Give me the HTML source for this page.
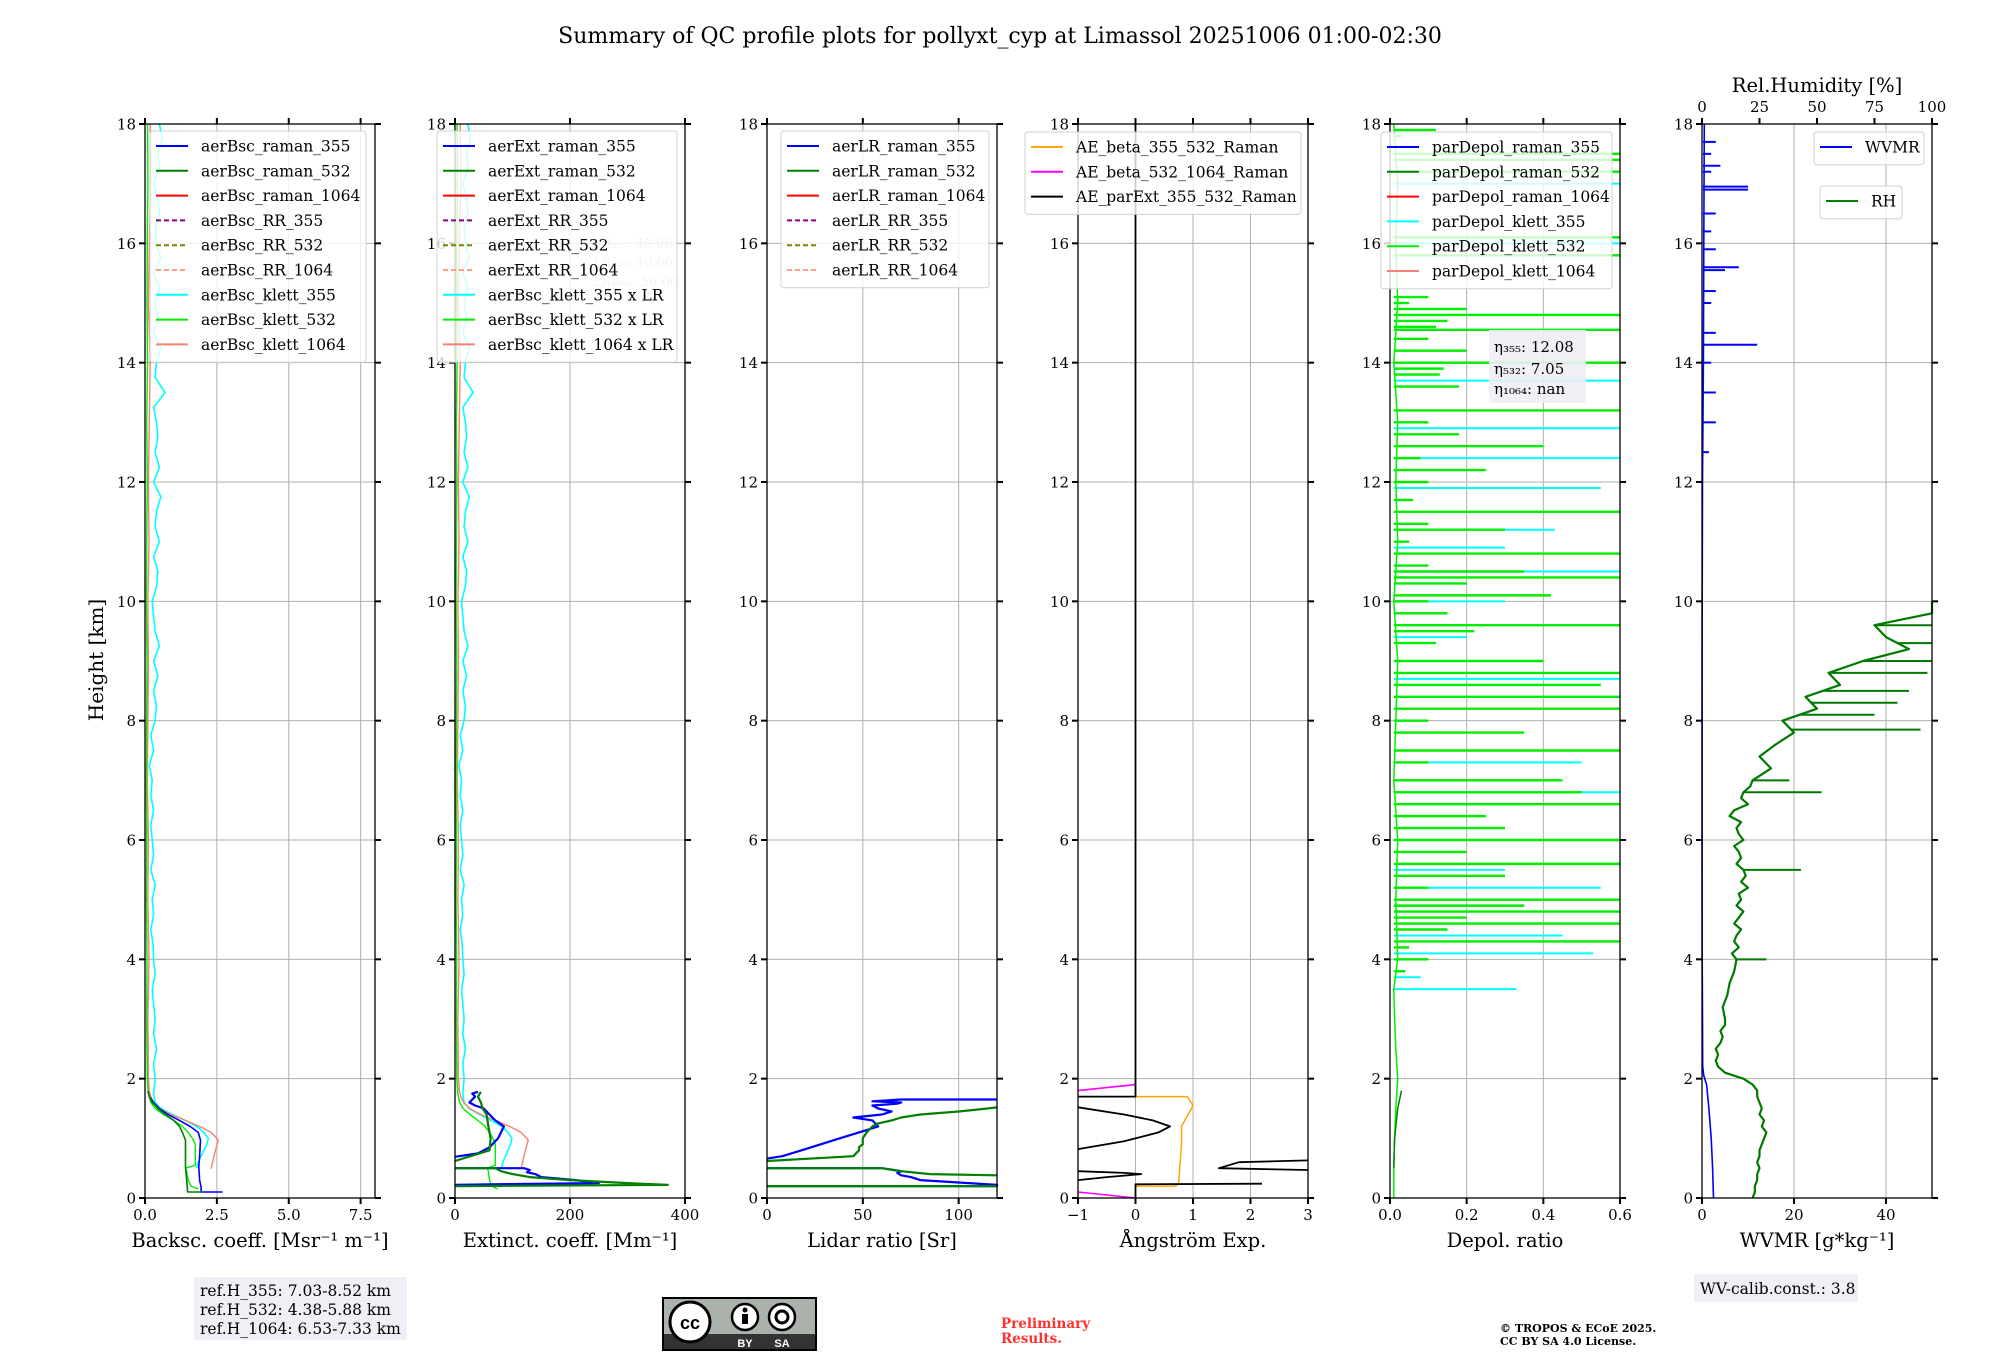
<!DOCTYPE html>
<html><head><meta charset="utf-8">
<style>
html,body{margin:0;padding:0;background:#fff;}
svg{display:block;font-family:"DejaVu Serif","Liberation Serif",serif;}
</style></head>
<body>
<svg id="chart" width="2000" height="1360" viewBox="0 0 2000 1360" xmlns="http://www.w3.org/2000/svg">
<rect width="2000" height="1360" fill="#fff"/>
<text x="1000" y="43" text-anchor="middle" font-size="22">Summary of QC profile plots for pollyxt_cyp at Limassol 20251006 01:00-02:30</text>
<text transform="translate(103,660) rotate(-90)" text-anchor="middle" font-size="20">Height [km]</text>
<g id="plots"></g>
<rect x="194" y="1277" width="213" height="63" fill="#eef0f5"/>
<text x="200" y="1296" font-size="15.5">ref.H_355: 7.03-8.52 km</text>
<text x="200" y="1315" font-size="15.5">ref.H_532: 4.38-5.88 km</text>
<text x="200" y="1334" font-size="15.5">ref.H_1064: 6.53-7.33 km</text>
<g>
<rect x="662" y="1297" width="155" height="54" fill="#000"/>
<rect x="664" y="1299" width="151" height="35" fill="#abb1ab"/>
<rect x="664" y="1334" width="151" height="15" fill="#333"/>
<circle cx="690" cy="1322" r="20" fill="#fff" stroke="#000" stroke-width="3"/>
<text x="690" y="1329" text-anchor="middle" font-size="18" font-weight="bold" font-family="Liberation Sans,sans-serif">cc</text>
<circle cx="745" cy="1317" r="13" fill="#fff" stroke="#000" stroke-width="2.5"/>
<circle cx="745" cy="1310" r="2.5" fill="#000"/><rect x="742" y="1314" width="6" height="10" fill="#000"/>
<circle cx="782" cy="1317" r="13" fill="#fff" stroke="#000" stroke-width="2.5"/>
<circle cx="782" cy="1317" r="6" fill="none" stroke="#000" stroke-width="3"/>
<text x="745" y="1347" text-anchor="middle" font-size="11" fill="#fff" font-family="Liberation Sans,sans-serif" font-weight="bold">BY</text>
<text x="782" y="1347" text-anchor="middle" font-size="11" fill="#fff" font-family="Liberation Sans,sans-serif" font-weight="bold">SA</text>
</g>
<text x="1001" y="1328" font-size="13.5" font-weight="bold" fill="#ff3030">Preliminary</text>
<text x="1001" y="1343" font-size="13.5" font-weight="bold" fill="#ff3030">Results.</text>
<text x="1500" y="1332" font-size="11" font-weight="bold">© TROPOS &amp; ECoE 2025.</text>
<text x="1500" y="1345" font-size="11" font-weight="bold">CC BY SA 4.0 License.</text>
<rect x="1694" y="1274" width="164" height="28" fill="#eef0f5"/>
<text x="1700" y="1294" font-size="15.5">WV-calib.const.: 3.8</text>
</svg>
<script>
// ---------- data ----------
const upperBsc355 = [0.35,0.3,0.4,0.3,0.35,0.3,0.25,0.35,0.3,0.28,0.2,0.3,0.25,0.35,0.2,0.3,0.25,0.2,0.3,0.2,0.25,0.15,0.3,0.2,0.35,0.4,0.3,0.45,0.3,0.5,0.35,0.3,0.25,0.4,0.45,0.3,0.5,0.35,0.4,0.55,0.3,0.5,0.35,0.45,0.4,0.3,0.7,0.35,0.4,0.55,0.3,0.45,0.35,0.5,0.3,0.55,0.4,0.35,0.5,0.45,0.3,0.5,0.45,0.6,0.5];
const upperBsc1064 = [0.12,0.1,0.14,0.1,0.12,0.08,0.1,0.12,0.1,0.14,0.12,0.15,0.18,0.12,0.15,0.2,0.18];
const upperBsc532 = [0.08,0.06,0.07,0.05,0.06,0.05,0.06,0.07,0.05,0.06,0.08,0.06,0.09,0.07,0.08,0.1,0.09];
const lowK355H = [0.5,0.6,0.7,0.8,0.9,1.0,1.1,1.2,1.3,1.4,1.5,1.6,1.75];
const lowK355V = [1.8,1.85,1.95,2.05,2.15,2.2,2.05,1.8,1.4,0.95,0.55,0.35,0.3];
const lowK1064H = [0.49,0.6,0.8,0.97,1.1,1.2,1.3,1.4,1.5,1.6,1.7,1.8];
const lowK1064V = [2.3,2.35,2.45,2.55,2.3,1.9,1.4,0.9,0.5,0.3,0.2,0.15];
const lowK532H = [0.15,0.2,0.3,0.45,0.5,0.55,0.7,0.9,1.0,1.1,1.2,1.3,1.4,1.5,1.6,1.75];
const lowK532V = [1.85,1.6,1.5,1.45,1.4,1.75,1.75,1.75,1.65,1.5,1.3,1.0,0.65,0.35,0.2,0.12];
const lrKlett = [45,40,50];
const bscR355H = [0.1,0.1,0.18,0.3,0.52,0.7,0.97,1.1,1.19,1.3,1.4,1.5,1.6,1.7,1.79];
const bscR355V = [2.7,1.95,1.95,1.9,1.87,1.9,1.93,1.85,1.6,1.2,0.8,0.5,0.3,0.15,0.1];
const bscR532H = [0.1,0.1,0.3,0.52,0.7,0.97,1.1,1.2,1.3,1.4,1.5,1.6,1.7,1.79];
const bscR532V = [2.0,1.48,1.45,1.41,1.41,1.41,1.3,1.2,1.0,0.7,0.45,0.25,0.15,0.1];
const extR355H = [0.22,0.23,0.25,0.3,0.35,0.4,0.43,0.47,0.5,0.5,null,0.69,0.75,0.85,1.0,1.1,1.2,1.3,1.4,1.5,1.55,1.6,1.65,1.7,1.75,1.78];
const extR355V = [0,60,250,210,150,140,125,130,120,0,null,0,40,60,75,80,85,70,60,50,35,25,30,35,30,40];
const extR532H = [0.2,0.22,0.25,0.3,0.35,0.4,0.45,0.5,0.5,null,0.62,0.8,1.0,1.2,1.4,1.5,1.6,1.7,1.78];
const extR532V = [0,370,300,200,130,100,80,70,0,null,0,60,62,58,55,48,45,40,45];
const lrR355H = [0.2,0.2,0.22,0.3,0.35,0.38,0.42,0.45,0.5,0.5,null,0.66,0.7,0.8,0.9,1.0,1.1,1.2,1.3,1.35,1.4,1.45,1.5,1.55,1.58,1.6,1.62,1.65,1.65];
const lrR355V = [0,120,120,80,75,70,68,70,60,0,null,0,8,18,28,38,48,58,55,45,60,65,58,55,68,70,55,70,120];
const lrR532H = [0.2,0.2,null,0.38,0.4,0.45,0.5,0.5,null,0.62,0.7,0.8,0.85,0.9,1.0,1.1,1.2,1.25,1.3,1.35,1.4,1.45,1.5,1.52];
const lrR532V = [0,120,null,120,85,70,60,0,null,0,45,48,48,50,50,52,55,58,65,70,80,100,115,120];
const aeExtH = [18,1.7,1.7,null,1.52,1.4,1.3,1.2,1.1,0.95,0.82,null,0.45,0.42,0.4,0.35,0.3,null,0.63,0.6,0.5,0.47,null,0.24,0.23,0];
const aeExtV = [0,0,-1,null,-1,-0.2,0.3,0.6,0.4,-0.2,-1,null,-1,-0.2,0.1,-0.5,-1,null,3,1.8,1.45,3,null,2.2,0,0];
const aeBscH = [1.7,1.7,1.55,1.2,0.9,0.25,0.2,0.2];
const aeBscV = [0,0.9,1.0,0.8,0.8,0.75,0.7,0];
const ae1064H = [1.9,1.8,null,0.1,0.0];
const ae1064V = [0,-1,null,-1,0];
const depolBaseH = [0,0.5,1,1.5,2,2.5,3,3.5,4,5,6,7,8,9,10,11,12,13,14,15,16,17,18];
const depolBaseV = [0.01,0.01,0.012,0.015,0.02,0.015,0.012,0.01,0.02,0.015,0.02,0.01,0.015,0.02,0.01,0.02,0.015,0.02,0.01,0.02,0.015,0.02,0.01];
const depolR532H = [0.5,1.0,1.5,1.8];
const depolR532V = [0.01,0.012,0.02,0.03];
const spikeK532H = [17.9,17.8,17.5,17.4,17.2,16.1,15.8,15.1,15.0,14.9,14.8,14.7,14.6,14.55,14.4,14.2,14.0,13.9,13.8,13.6,13.2,13.0,12.8,12.6,12.4,12.2,12.0,11.7,11.5,11.3,11.2,11.0,10.8,10.6,10.5,10.4,10.3,10.1,10.0,9.8,9.6,9.5,9.3,9.0,8.8,8.6,8.4,8.2,8.0,7.8,7.5,7.3,7.0,6.8,6.6,6.4,6.2,6.0,5.8,5.6,5.4,5.2,5.0,4.9,4.8,4.7,4.6,4.5,4.3,4.2,4.0,3.8];
const spikeK532V = [0.12,0.03,0.6,0.6,0.6,0.6,0.6,0.1,0.05,0.2,0.6,0.15,0.12,0.6,0.1,0.2,0.6,0.14,0.13,0.18,0.6,0.1,0.18,0.4,0.08,0.25,0.1,0.06,0.6,0.1,0.3,0.05,0.6,0.1,0.35,0.6,0.2,0.42,0.1,0.15,0.6,0.22,0.12,0.4,0.6,0.55,0.6,0.6,0.1,0.35,0.6,0.1,0.45,0.5,0.6,0.25,0.3,0.6,0.2,0.6,0.3,0.1,0.6,0.35,0.6,0.2,0.6,0.15,0.6,0.05,0.1,0.04];
const spikeK355H = [17.0,16.1,16.0,13.7,12.9,12.4,11.9,11.2,10.9,10.5,10.0,9.4,8.7,7.3,6.8,6.6,5.5,5.2,4.9,4.4,4.1,3.7,3.5];
const spikeK355V = [0.6,0.6,0.6,0.6,0.6,0.6,0.55,0.43,0.3,0.6,0.3,0.2,0.6,0.5,0.6,0.35,0.3,0.55,0.3,0.45,0.53,0.08,0.33];
const rhH = [0,0.1,0.2,0.3,0.4,0.5,0.6,0.7,0.8,0.9,1.0,1.1,1.2,1.3,1.4,1.5,1.6,1.7,1.8,1.9,2.0,2.1,2.2,2.3,2.4,2.5,2.6,2.7,2.8,2.9,3.0,3.2,3.4,3.6,3.8,4.0,4.1,4.2,4.3,4.4,4.5,4.6,4.7,4.8,4.9,5.0,5.1,5.2,5.3,5.4,5.5,5.6,5.7,5.8,5.9,6.0,6.1,6.2,6.3,6.4,6.5,6.6,6.7,6.8,6.9,7.0,7.2,7.4,7.6,7.8,8.0,8.2,8.4,8.6,8.8,9.0,9.2,9.4,9.6,9.8,10.0];
const rhV = [22,23,23,24,24,25,24,25,25,26,27,28,26,27,25,26,25,24,24,22,18,10,7,6,7,6,8,9,8,10,10,9,11,12,14,15,13,16,14,15,17,14,16,18,15,17,16,20,17,19,18,15,17,16,14,18,16,15,17,12,14,20,17,18,21,22,30,25,32,40,35,50,45,60,55,70,90,80,75,100,100];
const rhSpikeH = [4.0,5.5,6.8,7.0,7.85,8.1,8.3,8.5,8.8,9.0,9.3,9.6,9.9];
const rhSpikeV = [28,43,52,38,95,75,85,90,98,100,100,100,100];
const wvH = [0,0.5,1,1.5,1.9,2.05,2.2,3,4,6,8,10,12,14,16,18];
const wvV = [2.5,2.3,2.0,1.5,1.0,0.4,0.15,0.1,0.05,0.03,0.02,0.05,0.1,0.3,0.4,0.5];
const wvSpikeH = [17.7,17.5,17.3,17.2,16.95,16.9,16.5,16.2,15.9,15.6,15.55,15.2,15.0,14.5,14.3,14.0,13.5,13.0,12.5];
const wvSpikeV = [3,2,4,2,10,10,3,2,3,8,5,3,2,3,12,2,3,3,1.5];

// ---------- layout ----------
const NS = 'http://www.w3.org/2000/svg';
const root = document.getElementById('plots');
const Y0 = 1198, Y1 = 124, HMAX = 18;
function Y(h){ return Y0 - h/HMAX*(Y0-Y1); }
function mk(tag, attrs, parent){ const e=document.createElementNS(NS,tag); for(const k in attrs) e.setAttribute(k,attrs[k]); (parent||root).appendChild(e); return e; }

const panels = [
 {x0:145,x1:375,min:0,max:8,ticks:[0,2.5,5,7.5],lab:['0.0','2.5','5.0','7.5'],title:'Backsc. coeff. [Msr⁻¹ m⁻¹]',name:'backscatter'},
 {x0:455,x1:685,min:0,max:400,ticks:[0,200,400],lab:['0','200','400'],title:'Extinct. coeff. [Mm⁻¹]',name:'extinction'},
 {x0:767,x1:997,min:0,max:120,ticks:[0,50,100],lab:['0','50','100'],title:'Lidar ratio [Sr]',name:'lidar-ratio'},
 {x0:1078,x1:1308,min:-1,max:3,ticks:[-1,0,1,2,3],lab:['−1','0','1','2','3'],title:'Ångström Exp.',name:'angstrom'},
 {x0:1390,x1:1620,min:0,max:0.6,ticks:[0,0.2,0.4,0.6],lab:['0.0','0.2','0.4','0.6'],title:'Depol. ratio',name:'depol'},
 {x0:1702,x1:1932,min:0,max:50,ticks:[0,20,40],lab:['0','20','40'],title:'WVMR [g*kg⁻¹]',name:'wvmr'}
];
function X(p,v){ return p.x0 + (v-p.min)/(p.max-p.min)*(p.x1-p.x0); }

function frame(p){
  const g = mk('g',{});
  
  
  p.g = g;
  for(let h=0; h<=18; h+=2){
    const gl = mk('line',{x1:p.x0,x2:p.x1,y1:Y(h),y2:Y(h),stroke:'#b0b0b0','stroke-width':1},g);
    
    
    mk('line',{x1:p.x0-6,x2:p.x0,y1:Y(h),y2:Y(h),stroke:'#000','stroke-width':2},g);
    mk('line',{x1:p.x1,x2:p.x1+6,y1:Y(h),y2:Y(h),stroke:'#000','stroke-width':2},g);
    const t = mk('text',{x:p.x0-9,y:Y(h)+5.5,'text-anchor':'end','font-size':15},g);
    t.textContent = h;
    
    
  }
  p.ticks.forEach((v,i)=>{
    const x = X(p,v);
    mk('line',{x1:x,x2:x,y1:Y1,y2:Y0,stroke:'#b0b0b0','stroke-width':1},g);
    mk('line',{x1:x,x2:x,y1:Y0,y2:Y0+6,stroke:'#000','stroke-width':2},g);
    if(p.name!=='wvmr') mk('line',{x1:x,x2:x,y1:Y1-6,y2:Y1,stroke:'#000','stroke-width':2},g);
    const t = mk('text',{x:x,y:Y0+22,'text-anchor':'middle','font-size':15},g);
    t.textContent = p.lab[i];
    
    
  });
  const at = mk('text',{x:(p.x0+p.x1)/2,y:1247,'text-anchor':'middle','font-size':19.5},g);
  at.textContent = p.title;
  
  
}
function spines(p){
  const r = mk('rect',{x:p.x0,y:Y1,width:p.x1-p.x0,height:Y0-Y1,fill:'none',stroke:'#000','stroke-width':1.3});
  
  
}
function line(p,H,V,color,w,name,dash){
  let d='', pen=false;
  for(let i=0;i<H.length;i++){
    if(H[i]===null||V[i]===null){ pen=false; continue; }
    d += (pen?'L':'M') + X(p,V[i]).toFixed(1)+','+Y(H[i]).toFixed(1);
    pen=true;
  }
  const e = mk('path',{d:d,fill:'none',stroke:color,'stroke-width':w,'stroke-linejoin':'round'},p.g);
  if(dash) e.setAttribute('stroke-dasharray',dash);
  
  
  return e;
}
function spikes(p,H,V,color,w,name,baseFn){
  H.forEach((h,i)=>{
    const b = baseFn ? baseFn(h) : 0.01;
    const e = mk('line',{x1:X(p,b),x2:X(p,V[i]),y1:Y(h),y2:Y(h),stroke:color,'stroke-width':w},p.g);
    
    
  });
}
function interp(H,V,h){
  for(let i=0;i<H.length-1;i++){ if(h>=H[i]&&h<=H[i+1]){ const t=(h-H[i])/(H[i+1]-H[i]); return V[i]+t*(V[i+1]-V[i]); } }
  return V[V.length-1];
}
function legend(p,x,y,w,items,name){
  const n = items.length;
  const g = mk('g',{});
  
  
  mk('rect',{x:x,y:y,width:w,height:n*24.8+8,rx:3,fill:'#fff','fill-opacity':0.8,stroke:'#d0d0d0'},g);
  items.forEach((it,i)=>{
    const cy = y+15+i*24.8;
    const l = mk('line',{x1:x+6,x2:x+38,y1:cy,y2:cy,stroke:it[1],'stroke-width':2},g);
    if(it[2]) l.setAttribute('stroke-dasharray','5,3');
    const t = mk('text',{x:x+51,y:cy+5.5,'font-size':15.5},g);
    t.textContent = it[0];
    
    
  });
}

panels.forEach(frame);
const [P1,P2,P3,P4,P5,P6] = panels;

const hUp = upperBsc355.map((_,i)=>2+i*0.25);
const hUpCoarse = upperBsc1064.map((_,i)=>2+i);

// Panel 1
const k355H = lowK355H.concat(hUp), k355V = lowK355V.concat(upperBsc355);
const k1064H = lowK1064H.concat(hUpCoarse), k1064V = lowK1064V.concat(upperBsc1064);
const k532H = lowK532H.concat(hUpCoarse), k532V = lowK532V.concat(upperBsc532);
line(P1,k355H,k355V,'#00ffff',1.6,'bsc-klett-355');
line(P1,k1064H,k1064V,'#fa8072',1.4,'bsc-klett-1064');
line(P1,k532H,k532V,'#00ee00',1.4,'bsc-klett-532');
line(P1,bscR355H,bscR355V,'#0000ff',1.6,'bsc-raman-355');
line(P1,bscR532H,bscR532V,'#008000',1.6,'bsc-raman-532');

// Panel 2
line(P2,k355H,k355V.map(v=>v*lrKlett[0]),'#00ffff',1.6,'ext-klett-355');
line(P2,k1064H,k1064V.map(v=>v*lrKlett[2]),'#fa8072',1.4,'ext-klett-1064');
line(P2,k532H,k532V.map(v=>v*lrKlett[1]),'#00ee00',1.4,'ext-klett-532');
line(P2,extR355H,extR355V,'#0000ff',2.2,'ext-raman-355');
line(P2,extR532H,extR532V,'#008000',2.2,'ext-raman-532');

// Panel 3
line(P3,lrR355H,lrR355V,'#0000ff',2.2,'lr-raman-355');
line(P3,lrR532H,lrR532V,'#008000',2.2,'lr-raman-532');

// Panel 4
line(P4,aeBscH,aeBscV,'#ffa500',1.5,'ae-beta-355-532');
line(P4,ae1064H,ae1064V,'#ff00ff',1.6,'ae-beta-532-1064');
line(P4,aeExtH,aeExtV,'#000',1.8,'ae-parext-355-532');

// Panel 5
spikes(P5,spikeK355H,spikeK355V,'#00ffff',2,'depol-klett-355-spike');
spikes(P5,spikeK532H,spikeK532V,'#00ee00',2.4,'depol-klett-532-spike');
line(P5,depolBaseH,depolBaseV,'#00ee00',1.5,'depol-klett-532');
line(P5,depolR532H,depolR532V,'#008000',1.5,'depol-raman-532');

// Panel 6
const rhX = v=>v*P6.max/100;
line(P6,rhH,rhV.map(rhX),'#007a00',2.2,'rh-profile');
spikes(P6,rhSpikeH,rhSpikeV.map(rhX),'#007a00',2,'rh-spike',h=>rhX(interp(rhH,rhV,h)));
line(P6,wvH,wvV,'#0000ff',1.6,'wvmr-profile');
spikes(P6,wvSpikeH,wvSpikeV,'#0000ff',2,'wvmr-spike',()=>0.2);

panels.forEach(spines);

[0,25,50,75,100].forEach(v=>{
  const x = X(P6,rhX(v));
  mk('line',{x1:x,x2:x,y1:Y1-6,y2:Y1,stroke:'#000','stroke-width':2});
  const t = mk('text',{x:x,y:Y1-12,'text-anchor':'middle','font-size':15});
  t.textContent = v;
  
  
});
const rt = mk('text',{x:(P6.x0+P6.x1)/2,y:92,'text-anchor':'middle','font-size':19.5});
rt.textContent = 'Rel.Humidity [%]';



legend(P1,150,131,216,[['aerBsc_raman_355','#0000ff'],['aerBsc_raman_532','#008000'],['aerBsc_raman_1064','#ff0000'],['aerBsc_RR_355','#800080',1],['aerBsc_RR_532','#808000',1],['aerBsc_RR_1064','#ffa07a',1],['aerBsc_klett_355','#00ffff'],['aerBsc_klett_532','#00ee00'],['aerBsc_klett_1064','#fa8072']],'backscatter-legend');
const lrg = mk('g',{});


['LR₃₅₅: 45.00','LR₅₃₂: 40.00','LR₁₀₆₄: 50.00'].forEach((s,i)=>{
  const t = mk('text',{x:593,y:248+i*19,'font-size':13,fill:'#c4c4c4'},lrg);
  t.textContent = s;
});
legend(P2,437,131,240,[['aerExt_raman_355','#0000ff'],['aerExt_raman_532','#008000'],['aerExt_raman_1064','#ff0000'],['aerExt_RR_355','#800080',1],['aerExt_RR_532','#808000',1],['aerExt_RR_1064','#ffa07a',1],['aerBsc_klett_355 x LR','#00ffff'],['aerBsc_klett_532 x LR','#00ee00'],['aerBsc_klett_1064 x LR','#fa8072']],'extinction-legend');
legend(P3,781,131,208,[['aerLR_raman_355','#0000ff'],['aerLR_raman_532','#008000'],['aerLR_raman_1064','#ff0000'],['aerLR_RR_355','#800080',1],['aerLR_RR_532','#808000',1],['aerLR_RR_1064','#ffa07a',1]],'lidar-ratio-legend');
legend(P4,1025,132,276,[['AE_beta_355_532_Raman','#ffa500'],['AE_beta_532_1064_Raman','#ff00ff'],['AE_parExt_355_532_Raman','#000000']],'angstrom-legend');
legend(P5,1381,132,231,[['parDepol_raman_355','#0000ff'],['parDepol_raman_532','#008000'],['parDepol_raman_1064','#ff0000'],['parDepol_klett_355','#00ffff'],['parDepol_klett_532','#00ee00'],['parDepol_klett_1064','#fa8072']],'depol-legend');
legend(P6,1814,132,110,[['WVMR','#0000ff']],'wvmr-legend');
legend(P6,1820,186,82,[['RH','#008000']],'rh-legend');

const eg = mk('g',{});


mk('rect',{x:1489,y:330,width:97,height:73,fill:'#eef0f5','fill-opacity':0.9},eg);
[['η₃₅₅: 12.08',352],['η₅₃₂: 7.05',374],['η₁₀₆₄: nan',394]].forEach(a=>{
  const t = mk('text',{x:1494,y:a[1],'font-size':15},eg);
  t.textContent = a[0];
});
</script>
</body></html>
